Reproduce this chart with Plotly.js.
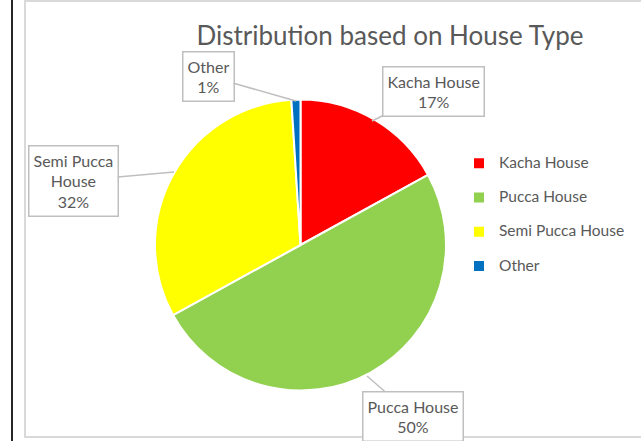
<!DOCTYPE html>
<html>
<head>
<meta charset="utf-8">
<script src="https://cdn.plot.ly/plotly-3.0.1.min.js"></script>
<style>
  html, body { margin: 0; padding: 0; background: #fff; }
  #chart { width: 641px; height: 441px; }
</style>
</head>
<body>
<div id="chart"></div>
<script>
const W = 641, H = 441;
const houseTypes = ['Kacha House', 'Pucca House', 'Semi Pucca House', 'Other'];
const sharePct = [17, 50, 32, 1];
const sliceColors = ['#FF0000', '#92D050', '#FFFF00', '#0070C0'];

// callout labels as Excel draws them (label + percent), wrapped by hand
const calloutText = ['Kacha House', 'Pucca House', 'Semi Pucca<br>House', 'Other'];

const textColor = '#595959';
const fontFamily = 'Lato, "Open Sans", sans-serif';

// px -> paper helpers (margins are zero so paper == page)
const px = x => x / W;
const py = y => 1 - y / H;

// legend rows are spaced wide in the original: small legend font (sets the row height)
// with the visible label in a bigger span, plus an empty second line
const pieTrace = {
    type: 'pie',
    labels: houseTypes.map(t => '<span style="font-size:15.5px">' + t + '</span><br> '),
    values: sharePct,
    sort: false,
    direction: 'clockwise',
    rotation: 0,
    textinfo: 'none',
    hoverinfo: 'label+percent',
    marker: {
        colors: sliceColors,
        line: { color: '#ffffff', width: 2 }
    },
    domain: { x: [px(155), px(446)], y: [py(391), py(99)] }
};

// tip on the pie edge + offset to the callout box centre (pixels)
const callouts = [
    { tip: [372, 121], off: [61, -30] },
    { tip: [367, 376], off: [46, 40] },
    { tip: [174, 172], off: [-101, 9] },
    { tip: [296, 101], off: [-88, -25] }
];

const annotations = callouts.map((c, i) => ({
    xref: 'paper', yref: 'paper',
    x: px(c.tip[0]), y: py(c.tip[1]),
    ax: c.off[0], ay: c.off[1],
    text: calloutText[i] + '<br>' + sharePct[i] + '%',
    showarrow: true,
    arrowhead: 0,
    arrowwidth: 1.5,
    arrowcolor: '#BFBFBF',
    bordercolor: '#BFBFBF',
    borderwidth: 1.5,
    borderpad: 4,
    bgcolor: '#ffffff',
    font: { family: fontFamily, size: 16, color: textColor }
}));

const shapes = [
    { type: 'line', xref: 'paper', yref: 'paper', x0: px(12), x1: px(12), y0: 0, y1: 1,
      line: { color: '#262626', width: 2 } },
    { type: 'rect', xref: 'paper', yref: 'paper', x0: px(25), x1: px(660), y0: py(437), y1: py(1),
      line: { color: '#D9D9D9', width: 2 } }
];

const layout = {
    width: W,
    height: H,
    margin: { l: 0, r: 0, t: 0, b: 0 },
    paper_bgcolor: '#ffffff',
    font: { family: fontFamily, color: textColor },
    title: {
        text: 'Distribution based on House Type',
        x: px(390), xanchor: 'center',
        y: py(36), yanchor: 'middle',
        font: { family: fontFamily, size: 26, color: textColor }
    },
    showlegend: true,
    legend: {
        x: px(459), y: py(149),
        xanchor: 'left', yanchor: 'top',
        valign: 'top',
        itemwidth: 30,
        font: { family: fontFamily, size: 12, color: textColor },
        bgcolor: 'rgba(0,0,0,0)'
    },
    annotations: annotations,
    shapes: shapes
};

Plotly.newPlot('chart', [pieTrace], layout, { displayModeBar: false, staticPlot: true });
</script>
</body>
</html>
